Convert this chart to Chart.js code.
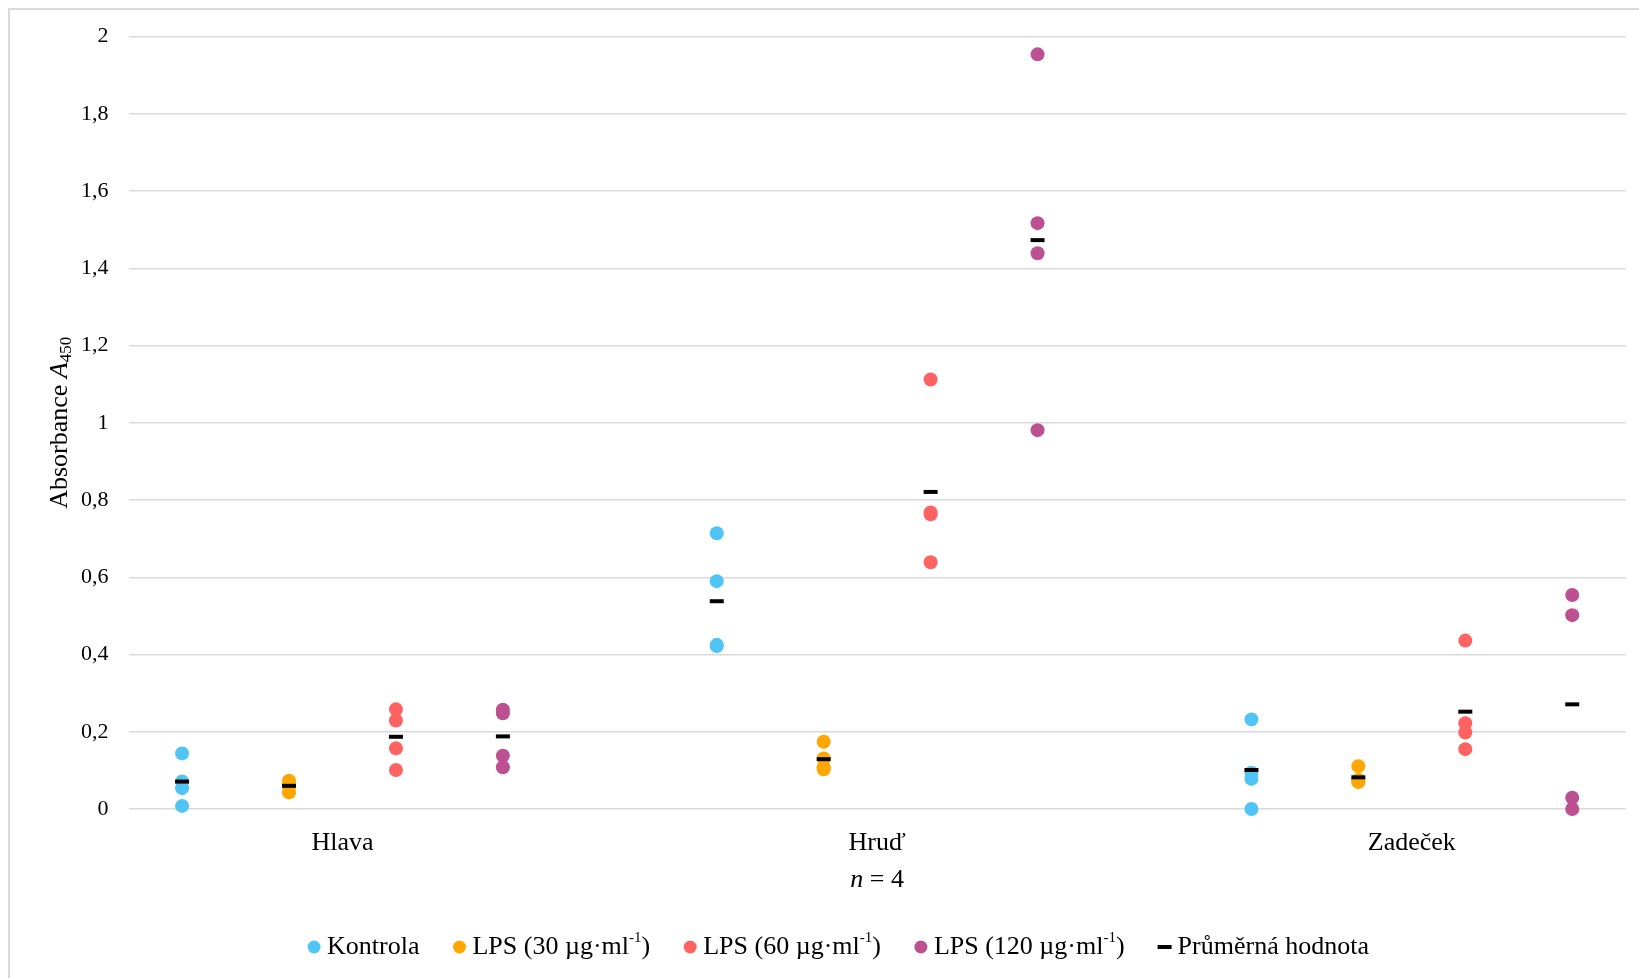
<!DOCTYPE html>
<html>
<head>
<meta charset="utf-8">
<script src="https://cdn.jsdelivr.net/npm/chart.js"></script>
<style>
    body { margin: 0; background: #fff; }
    #graf { display: block; }
</style>
</head>
<body>
<canvas id="graf" width="1639" height="978"></canvas>
<script>
// skupiny na ose x
const skupiny = ['Hlava', 'Hruď', 'Zadeček']
const serie = ['Kontrola', 'LPS (30 µg·ml⁻¹)', 'LPS (60 µg·ml⁻¹)', 'LPS (120 µg·ml⁻¹)']
const prumerLabel = 'Průměrná hodnota'

// hodnoty: [Hlava, Hruď, Zadeček], 4 opakovani
const kontrola = [[0.144, 0.071, 0.054, 0.008], [0.714, 0.590, 0.425, 0.422], [0.232, 0.094, 0.078, 0.000]]
const lps30 = [[0.073, 0.065, 0.058, 0.043], [0.174, 0.131, 0.108, 0.103], [0.111, 0.076, 0.071, 0.070]]
const lps60 = [[0.258, 0.229, 0.157, 0.101], [1.112, 0.768, 0.763, 0.639], [0.436, 0.222, 0.198, 0.155]]
const lps120 = [[0.257, 0.248, 0.138, 0.108], [1.954, 1.517, 1.439, 0.981], [0.554, 0.502, 0.029, 0.000]]
// prumery: po skupinach, ve stejnem poradi serii
const prumery = [[0.071, 0.060, 0.187, 0.188], [0.538, 0.129, 0.821, 1.473], [0.101, 0.082, 0.252, 0.271]]

const yTicks = [0, 0.2, 0.4, 0.6, 0.8, 1, 1.2, 1.4, 1.6, 1.8, 2]

const barvy = ['#51c4f6', '#ffa600', '#ff6361', '#bc5090']
const font = "'Liberation Serif', 'Times New Roman', serif"

// x pozice: skupina g, serie s -> g*5 + s (mezera mezi skupinami)
const body = (hodnoty, s) => {
    let out = []
    hodnoty.forEach((skup, g) => {
        skup.forEach(v => out.push({ x: g * 5 + s, y: v }))
    })
    return out
}

const prumerBody = () => {
    let out = []
    prumery.forEach((skup, g) => {
        skup.forEach((v, s) => out.push({ x: g * 5 + s, y: v }))
    })
    return out
}

const datasets = [kontrola, lps30, lps60, lps120].map((d, i) => ({
    label: serie[i],
    data: body(d, i),
    backgroundColor: barvy[i],
    borderWidth: 0,
    pointRadius: 7,
    pointHoverRadius: 7,
    clip: false,
    order: 1
}))
datasets.push({
    label: prumerLabel,
    data: prumerBody(),
    pointStyle: 'line',
    borderColor: '#000',
    backgroundColor: '#000',
    borderWidth: 4,
    pointRadius: 7,
    pointHoverRadius: 7,
    clip: false,
    order: 0
})

// ramecek grafu
const ramecek = {
    id: 'ramecek',
    beforeDraw(chart) {
        const c = chart.ctx
        c.save()
        c.strokeStyle = '#d9d9d9'
        c.lineWidth = 2
        c.strokeRect(9, 9, 1660, 1100)
        c.restore()
    }
}

// nazev osy y a "n = 4"
const popisky = {
    id: 'popisky',
    afterDraw(chart) {
        const c = chart.ctx
        const a = chart.chartArea
        c.save()
        c.fillStyle = '#000'
        c.textBaseline = 'middle'

        // osa y: Absorbance A450
        c.translate(60, (a.top + a.bottom) / 2)
        c.rotate(-Math.PI / 2)
        let t1 = 'Absorbance '
        c.font = '26px ' + font
        let w1 = c.measureText(t1).width
        c.font = 'italic 26px ' + font
        let w2 = c.measureText('A').width
        c.font = '17px ' + font
        let w3 = c.measureText('450').width
        let x = -(w1 + w2 + w3) / 2
        c.textAlign = 'left'
        c.font = '26px ' + font
        c.fillText(t1, x, 0)
        c.font = 'italic 26px ' + font
        c.fillText('A', x + w1, 0)
        c.font = '17px ' + font
        c.fillText('450', x + w1 + w2, 7)
        c.restore()

        // n = 4
        c.save()
        c.fillStyle = '#000'
        c.textBaseline = 'middle'
        c.textAlign = 'left'
        c.font = 'italic 26px ' + font
        let wn = c.measureText('n').width
        c.font = '26px ' + font
        let wr = c.measureText(' = 4').width
        let xn = (a.left + a.right) / 2 - (wn + wr) / 2
        c.font = 'italic 26px ' + font
        c.fillText('n', xn, 880)
        c.font = '26px ' + font
        c.fillText(' = 4', xn + wn, 880)
        c.restore()
    }
}

// legenda dole
const legenda = {
    id: 'legenda',
    afterDraw(chart) {
        const c = chart.ctx
        const y = 947
        c.save()
        c.textBaseline = 'middle'
        c.textAlign = 'left'
        // rozdeleni textu na casti (horni index)
        const casti = (txt) => txt.split(/(⁻¹)/).filter(p => p.length)
        const sirka = (txt) => {
            let w = 0
            casti(txt).forEach(p => {
                if (p === '⁻¹') { c.font = '15px ' + font; w += c.measureText('-1').width }
                else { c.font = '26px ' + font; w += c.measureText(p).width }
            })
            return w
        }
        const items = chart.data.datasets.map(d => d.label)
        const gapText = 13
        const gapItem = 40
        let total = 0
        items.forEach((t, i) => {
            total += 7 + gapText + sirka(t)
            if (i < items.length - 1) total += gapItem - 7
        })
        let x = 838 - total / 2
        chart.data.datasets.forEach((d, i) => {
            let cx = x + 7
            if (d.pointStyle === 'line') {
                c.fillStyle = '#000'
                c.fillRect(cx - 7, y - 2, 14, 4)
            } else {
                c.fillStyle = d.backgroundColor
                c.beginPath()
                c.arc(cx, y, 6.5, 0, Math.PI * 2)
                c.fill()
            }
            let tx = cx + gapText
            c.fillStyle = '#000'
            casti(d.label).forEach(p => {
                if (p === '⁻¹') {
                    c.font = '15px ' + font
                    c.fillText('-1', tx, y - 9)
                    tx += c.measureText('-1').width
                } else {
                    c.font = '26px ' + font
                    c.fillText(p, tx, y)
                    tx += c.measureText(p).width
                }
            })
            x = tx + gapItem - 7
        })
        c.restore()
    }
}

const graf = document.getElementById('graf').getContext('2d')
const scatterChart = new Chart(graf, {
    type: 'scatter',
    data: { datasets: datasets },
    options: {
        responsive: false,
        animation: false,
        layout: { padding: { top: 36.6, right: 13.3, left: 0, bottom: 0 } },
        plugins: {
            legend: { display: false },
            tooltip: { enabled: false }
        },
        scales: {
            x: {
                type: 'linear',
                min: -0.5,
                max: 13.5,
                grid: { display: false },
                border: { display: false },
                afterBuildTicks: (s) => {
                    s.ticks = skupiny.map((n, g) => ({ value: g * 5 + 1.5 }))
                },
                afterFit: (s) => { s.height = 978 - 809 },
                ticks: {
                    autoSkip: false,
                    maxRotation: 0,
                    padding: 11,
                    color: '#000',
                    font: { family: font, size: 26 },
                    callback: (v) => skupiny[Math.round((v - 1.5) / 5)]
                }
            },
            y: {
                min: 0,
                max: 2,
                afterBuildTicks: (s) => {
                    s.ticks = yTicks.map(v => ({ value: v }))
                },
                afterFit: (s) => { s.width = 128.6 },
                grid: { color: '#d9d9d9', lineWidth: 1.5, drawTicks: false },
                border: { display: false },
                ticks: {
                    padding: 20,
                    color: '#000',
                    font: { family: font, size: 22 },
                    callback: (v) => String(Number(v.toFixed(1))).replace('.', ',')
                }
            }
        }
    },
    plugins: [ramecek, popisky, legenda]
})
</script>
</body>
</html>
